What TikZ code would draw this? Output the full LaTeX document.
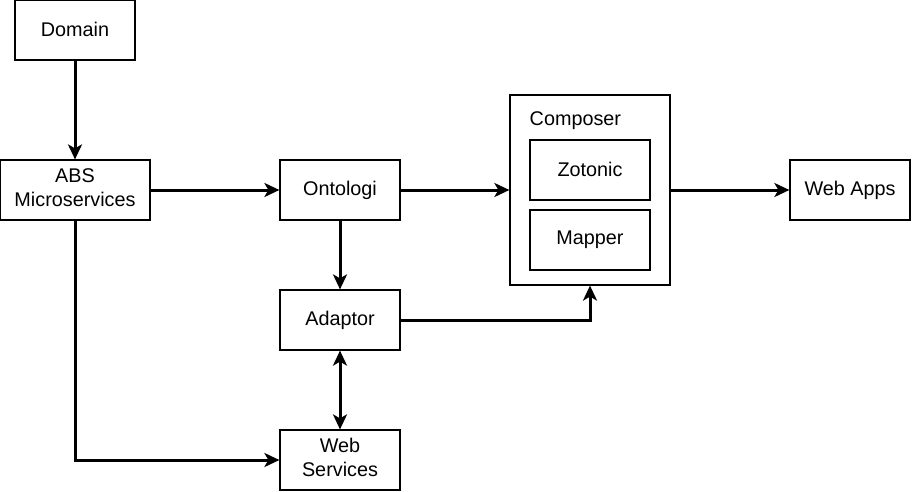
\documentclass[tikz,border=0pt]{standalone}
\usepackage{fontspec}
\setmainfont{Liberation Sans}
\usetikzlibrary{arrows.meta}
\newcommand{\twolines}[2]{\raisebox{1.5pt}{\begin{tabular}{@{}c@{}}#1\\#2\end{tabular}}}
\tikzset{
  lbl/.style={font=\fontsize{19.8}{24}\selectfont},
  box/.style={draw=black, line width=1.2pt, fill=white, minimum width=120pt, minimum height=60pt, inner sep=0pt, align=center, lbl},
  conn/.style={line width=3pt, -{Stealth[length=15pt,width=14pt,inset=4pt]}},
  biconn/.style={line width=3pt, {Stealth[length=15pt,width=14pt,inset=4pt]}-{Stealth[length=15pt,width=14pt,inset=4pt]}}
}
\begin{document}
\begin{tikzpicture}[x=1pt,y=-1pt]
\useasboundingbox (0,0) rectangle (912,491);
\node[box] (domain) at (75,30) {\raisebox{1.5pt}{Domain}};
\node[box, minimum width=150pt] (abs) at (75,190) {\twolines{ABS}{Microservices}};
\node[box] (onto) at (340,190) {\raisebox{1.5pt}{Ontologi}};
\node[box] (adaptor) at (340,320) {\raisebox{1.5pt}{Adaptor}};
\node[box] (websvc) at (340,460) {\twolines{Web}{Services}};
\node[box, minimum width=160pt, minimum height=190pt] (composer) at (590,190) {};
\node[anchor=west, inner sep=0pt, lbl] (complabel) at (529.5,121) {Composer};
\node[box] (zotonic) at (590,170) {\raisebox{1.5pt}{Zotonic}};
\node[box] (mapper) at (590,240) {\raisebox{1.5pt}{Mapper}};
\node[box] (webapps) at (850,190) {\raisebox{1.5pt}{Web Apps}};
\coordinate (absturn) at (75,460);
\coordinate (adturn) at (590,320);

\draw[conn] (domain.south) -- (abs.north);
\draw[conn] (abs.east) -- (onto.west);
\draw[conn] (onto.east) -- (composer.west);
\draw[conn] (composer.east) -- (webapps.west);
\draw[conn] (onto.south) -- (adaptor.north);
\draw[conn] (adaptor.east) -- (adturn) -- (composer.south);
\draw[biconn] (adaptor.south) -- (websvc.north);
\draw[conn] (abs.south) -- (absturn) -- (websvc.west);
\end{tikzpicture}
\end{document}
